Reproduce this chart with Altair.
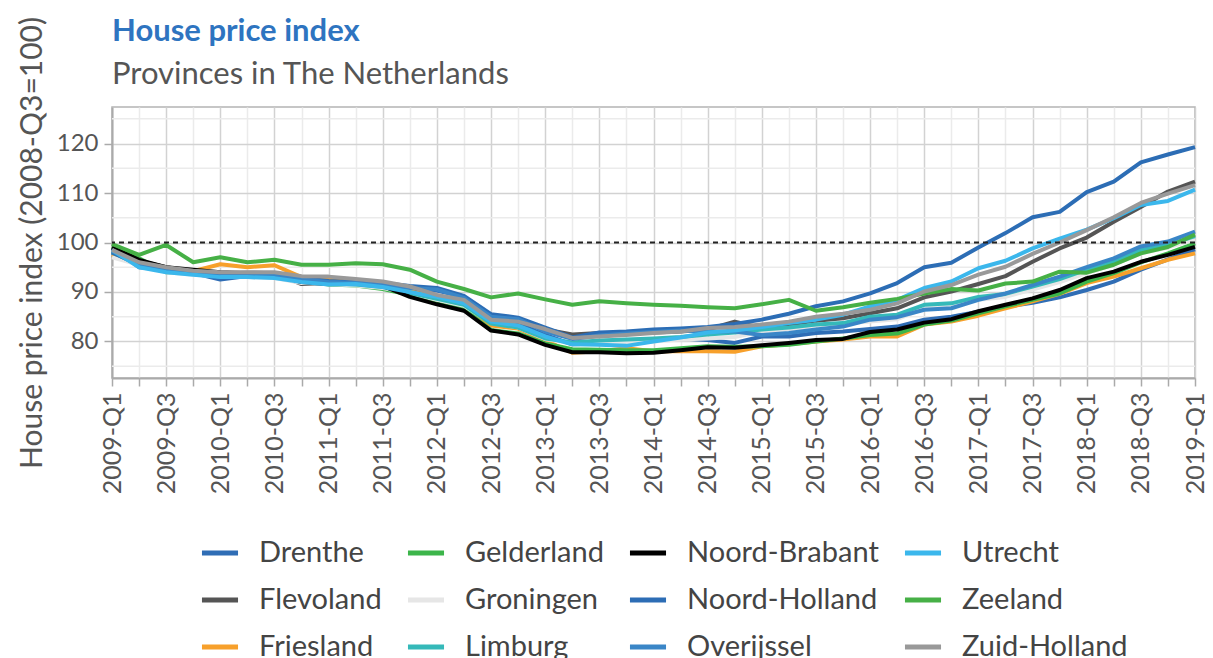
import altair as alt
import pandas as pd

QUARTERS = [f"{y}-Q{q}" for y in range(2009, 2019) for q in range(1, 5)] + ["2019-Q1"]

drenthe = [98.8, 95.0, 94.5, 93.8, 92.5, 93.2, 93.0, 92.5, 92.5, 92.0, 91.5, 90.5, 90.3, 89.0, 84.5, 83.6, 81.3, 79.4, 79.6, 79.4, 80.3, 80.6, 80.3, 79.7, 81.0, 81.0, 81.7, 82.0, 82.5, 83.0, 84.4, 85.0, 86.0, 87.0, 87.8, 88.9, 90.4, 92.1, 94.5, 96.6, 98.6]
flevoland = [98.0, 96.3, 95.0, 94.2, 93.8, 93.9, 93.8, 91.6, 91.7, 92.2, 91.6, 90.6, 88.7, 87.6, 84.8, 84.2, 82.4, 81.4, 81.7, 81.7, 81.8, 82.0, 82.4, 84.0, 82.7, 83.4, 84.2, 84.7, 85.7, 86.7, 88.9, 90.1, 91.6, 93.2, 96.1, 98.8, 101.0, 104.2, 107.2, 110.3, 112.3]
friesland = [97.5, 95.8, 94.8, 94.2, 95.6, 95.0, 95.4, 93.0, 92.5, 91.8, 91.3, 90.2, 88.8, 87.5, 83.2, 82.6, 80.2, 77.7, 78.0, 78.6, 78.0, 78.0, 78.0, 77.9, 79.0, 79.4, 80.0, 80.4, 81.0, 81.0, 83.4, 84.0, 85.2, 86.7, 88.1, 89.6, 91.8, 93.1, 94.8, 96.5, 97.8]
gelderland = [99.2, 96.8, 94.0, 93.8, 93.5, 93.5, 93.2, 92.3, 91.5, 91.3, 90.6, 89.4, 88.0, 86.5, 82.3, 81.6, 79.6, 78.4, 78.3, 78.2, 78.2, 78.6, 79.0, 78.9, 79.0, 79.3, 80.0, 80.6, 81.3, 81.6, 83.4, 84.2, 85.7, 87.1, 88.4, 89.7, 92.1, 93.8, 96.0, 97.8, 99.8]
groningen = [97.0, 95.5, 94.0, 93.5, 93.2, 93.0, 92.8, 91.8, 91.6, 91.3, 90.8, 89.8, 88.4, 87.2, 83.8, 82.8, 80.5, 79.6, 79.8, 79.8, 80.0, 80.4, 80.6, 80.9, 82.0, 82.4, 83.2, 83.6, 84.0, 84.5, 86.7, 87.4, 88.4, 89.0, 90.5, 92.0, 93.8, 95.5, 97.8, 99.0, 100.6]
limburg = [98.0, 95.5, 94.2, 93.8, 93.2, 93.5, 93.2, 92.2, 91.8, 91.5, 91.0, 89.8, 88.6, 87.4, 83.6, 82.8, 80.6, 79.8, 80.2, 80.4, 80.6, 80.9, 81.4, 81.8, 82.4, 82.8, 83.4, 83.7, 85.0, 85.4, 87.4, 87.7, 89.0, 89.6, 91.1, 92.6, 94.5, 96.1, 98.5, 99.5, 101.3]
noord_brabant = [99.0, 96.5, 95.0, 94.5, 94.0, 93.8, 93.5, 92.0, 91.6, 91.8, 91.2, 89.0, 87.5, 86.2, 82.2, 81.4, 79.3, 77.8, 77.8, 77.6, 77.7, 78.2, 78.8, 78.7, 79.2, 79.7, 80.3, 80.5, 81.9, 82.4, 83.8, 84.5, 86.1, 87.4, 88.7, 90.4, 92.8, 94.1, 96.1, 97.5, 99.1]
noord_holland = [98.0, 95.5, 94.5, 94.0, 93.5, 93.8, 93.5, 92.8, 92.2, 92.0, 91.8, 91.2, 90.8, 89.2, 85.5, 84.8, 82.8, 80.8, 81.8, 82.0, 82.4, 82.6, 82.9, 83.5, 84.4, 85.6, 87.1, 88.1, 89.7, 91.8, 95.0, 95.9, 99.0, 101.9, 105.1, 106.2, 110.2, 112.3, 116.2, 117.8, 119.3]
overijssel = [98.3, 95.3, 94.3, 93.8, 93.3, 93.6, 93.4, 92.5, 92.0, 91.8, 91.4, 90.8, 90.5, 88.8, 85.0, 84.5, 82.0, 80.5, 81.2, 81.6, 81.9, 82.2, 82.0, 82.0, 81.3, 81.7, 82.4, 83.0, 84.4, 84.9, 86.4, 86.7, 88.4, 89.7, 91.4, 93.1, 95.0, 96.8, 99.2, 100.2, 102.2]
utrecht = [98.5, 95.0, 94.0, 93.5, 93.0, 93.0, 92.8, 92.0, 91.5, 91.6, 91.0, 90.0, 89.0, 87.7, 84.0, 83.2, 81.0, 79.4, 79.3, 79.1, 80.0, 80.8, 81.8, 82.2, 82.9, 83.7, 84.4, 85.4, 87.1, 88.4, 90.8, 92.1, 94.8, 96.3, 98.8, 100.8, 102.6, 104.9, 107.6, 108.4, 110.7]
zeeland = [99.7, 97.5, 99.5, 96.0, 97.0, 96.0, 96.5, 95.5, 95.5, 95.8, 95.6, 94.5, 92.1, 90.6, 88.9, 89.7, 88.5, 87.4, 88.1, 87.7, 87.4, 87.2, 86.9, 86.7, 87.5, 88.4, 86.2, 86.9, 87.8, 88.6, 89.7, 90.6, 90.3, 91.7, 92.1, 94.1, 93.9, 95.5, 97.8, 99.1, 101.6]
zuid_holland = [98.5, 96.0, 95.0, 94.3, 94.0, 94.0, 94.0, 93.2, 93.1, 92.6, 92.1, 91.1, 89.4, 88.4, 84.4, 84.0, 82.5, 80.7, 81.0, 81.3, 81.7, 82.0, 82.7, 82.9, 83.4, 84.0, 85.0, 85.6, 86.4, 87.7, 90.1, 91.4, 93.5, 95.1, 97.7, 100.0, 102.5, 105.1, 108.0, 109.9, 111.6]

PROVINCES = ["Drenthe", "Flevoland", "Friesland", "Gelderland", "Groningen", "Limburg",
             "Noord-Brabant", "Noord-Holland", "Overijssel", "Utrecht", "Zeeland", "Zuid-Holland"]
SERIES = [drenthe, flevoland, friesland, gelderland, groningen, limburg,
          noord_brabant, noord_holland, overijssel, utrecht, zeeland, zuid_holland]
COLORS = ["#2f6db5", "#555555", "#f7a02b", "#3cb54a", "#e6e6e6", "#35b9b9",
          "#000000", "#2c6db5", "#3a86c7", "#3bb7ec", "#46b046", "#999999"]

Y_MAJOR = [80, 90, 100, 110, 120]
Y_MINOR = [75, 85, 95, 105, 115, 125]
REFERENCE = [100]

rows = []
for k, (p, vals) in enumerate(zip(PROVINCES, SERIES)):
    for q, v in zip(QUARTERS, vals):
        rows.append({"Province": p, "Quarter": q, "Index": v, "ord": k})
df = pd.DataFrame(rows)

FONT = "Lato"
q13 = "indexof(datum.value, 'Q1') >= 0 || indexof(datum.value, 'Q3') >= 0"

x_enc = alt.X("Quarter:O", sort=QUARTERS,
              scale=alt.Scale(type="point", padding=0),
              axis=alt.Axis(title=None, labelAngle=270, labelFontSize=25, labelFont=FONT,
                            labelColor="#555", labelOverlap=False, labelPadding=6,
                            labelExpr="indexof(datum.label, 'Q1') >= 0 || indexof(datum.label, 'Q3') >= 0 ? datum.label : ''",
                            tickSize=8, tickColor="#aaaaaa", tickWidth=1.5,
                            domainColor="#aaaaaa", domainWidth=2,
                            grid=True, gridWidth=1.5,
                            gridColor={"condition": {"test": q13, "value": "#d2d2d2"}, "value": "#ebebeb"}))

y_scale = alt.Scale(domain=[72.6, 127.4], nice=False, zero=False)
y_axis = alt.Axis(title="House price index (2008-Q3=100)", titleFontSize=30,
                  titleFont=FONT, titleFontWeight="normal", titleColor="#555",
                  titlePadding=9, values=Y_MAJOR, labelOverlap=False,
                  labelFontSize=24, labelFont=FONT, labelColor="#555", labelPadding=6,
                  tickSize=8, tickColor="#aaaaaa", tickWidth=1.5,
                  domainColor="#aaaaaa", domainWidth=2,
                  grid=True, gridWidth=1.5, gridColor="#d2d2d2")

minor = alt.Chart(pd.DataFrame({"g": Y_MINOR})).mark_rule(
    color="#ebebeb", strokeWidth=1.5).encode(y=alt.Y("g:Q", scale=y_scale, axis=y_axis))

lines = alt.Chart(df).mark_line(strokeWidth=4, strokeJoin="round").encode(
    x=x_enc,
    y=alt.Y("Index:Q", scale=y_scale, axis=y_axis),
    color=alt.Color("Province:N",
                    scale=alt.Scale(domain=PROVINCES, range=COLORS),
                    legend=alt.Legend(title=None, orient="none", legendX=87, legendY=425,
                                      direction="vertical", columns=4, symbolType="stroke",
                                      symbolSize=1300, symbolStrokeWidth=5, labelFontSize=29,
                                      labelFont=FONT, labelColor="#444", labelLimit=0,
                                      rowPadding=11, columnPadding=15,
                                      labelOffset=18, padding=0)),
    order=alt.Order("ord:Q"),
)

ref = alt.Chart(pd.DataFrame({"v": REFERENCE})).mark_rule(
    color="#222", strokeDash=[5, 4], strokeWidth=2).encode(
    y=alt.Y("v:Q", scale=y_scale, axis=y_axis))

chart = alt.layer(minor, lines, ref).properties(
    width=1083, height=271,
    title=alt.TitleParams(text="House price index", subtitle="Provinces in The Netherlands",
                          anchor="start", frame="group", font=FONT, fontSize=31,
                          fontWeight="bold", color="#2e74c0", subtitleFont=FONT,
                          subtitleFontSize=31, subtitleColor="#555", subtitlePadding=12,
                          offset=18, dy=92),
    autosize=alt.AutoSizeParams(type="none"),
    padding={"left": 104, "top": 99, "right": 10, "bottom": 300},
).configure_view(stroke="#b4b4b4", strokeWidth=1.5)

chart.save("out.html", embed_options={"renderer": "svg", "actions": False})
